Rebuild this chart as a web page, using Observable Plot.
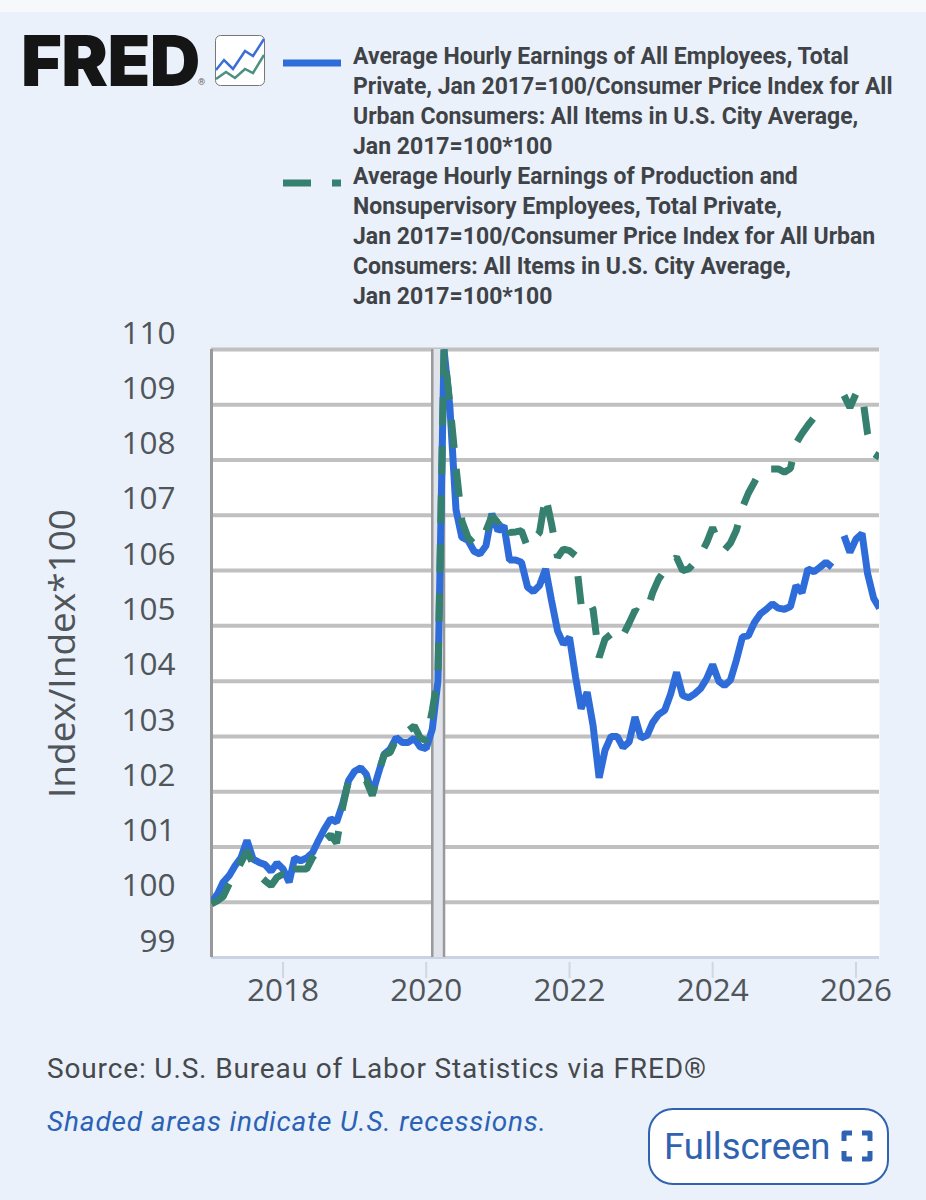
<!DOCTYPE html>
<html>
<head>
<meta charset="utf-8">
<script src="https://cdn.jsdelivr.net/npm/d3@7"></script>
<script src="https://cdn.jsdelivr.net/npm/@observablehq/plot@0.6"></script>
<style>
html,body{margin:0;padding:0;background:#eaf1fa;width:926px;height:1200px;overflow:hidden;font-family:Roboto,sans-serif}
#header{position:relative;height:300px;width:926px}
#top{position:absolute;left:0;top:0;width:926px;height:12px;background:#f6f8fc}
#logo{position:absolute;left:21px;top:36px;font:900 70px/50px Inter,sans-serif;letter-spacing:-0.6px;color:#151515}
#reg{position:absolute;left:198px;top:77px;font:9px/11px Roboto;color:#666}
#icon{position:absolute;left:215px;top:35px}
.leg{position:absolute;left:353px;width:560px;font:700 23px/30px Roboto,sans-serif;color:#3f4347;white-space:nowrap}
.key{position:absolute;left:283px}
#chart{height:740px}
#chart svg{display:block;background:transparent}
#source{position:absolute;left:47px;top:1052px;font:28px/34px Roboto,sans-serif;letter-spacing:.86px;color:#45494d;white-space:nowrap}
#note{position:absolute;left:47px;top:1105px;font:italic 28px/34px Roboto,sans-serif;letter-spacing:.85px;color:#2b62b5;white-space:nowrap}
#btn{position:absolute;left:648px;top:1108px;width:237px;height:73px;background:#fff;border:2px solid #2f62b0;border-radius:25px;color:#2f62b0;font:36.5px/73px Roboto,sans-serif}
#btn span{position:absolute;left:14px;top:0}
#btn svg{position:absolute;left:191px;top:20px}
</style>
</head>
<body>
<div id="top"></div>
<div id="header">
  <div id="logo">FRED</div><div id="reg">®</div>
  <svg id="icon" width="50" height="52" viewBox="0 0 50 52">
    <rect x="0.5" y="0.5" width="49" height="50" rx="5" fill="#fff" stroke="#777"/>
    <polyline points="1,35 9,25 18,34 30,16 38,21 49,4" fill="none" stroke="#3b6fd6" stroke-width="2.5"/>
    <polyline points="1,44 11,37 20,43 30,34 38,38 49,20" fill="none" stroke="#4c9180" stroke-width="2.5"/>
  </svg>
  <svg class="key" style="top:58px" width="58" height="10"><line x1="0" x2="58" y1="5" y2="5" stroke="#2e6dd9" stroke-width="7"/></svg>
  <svg class="key" style="top:178px" width="58" height="10"><line x1="0" x2="58" y1="5" y2="5" stroke="#35806f" stroke-width="7" stroke-dasharray="28,21"/></svg>
  <div class="leg" style="top:42px">Average Hourly Earnings of All Employees, Total<br>Private, Jan 2017=100/Consumer Price Index for All<br>Urban Consumers: All Items in U.S. City Average,<br>Jan 2017=100*100</div>
  <div class="leg" style="top:162px">Average Hourly Earnings of Production and<br>Nonsupervisory Employees, Total Private,<br>Jan 2017=100/Consumer Price Index for All Urban<br>Consumers: All Items in U.S. City Average,<br>Jan 2017=100*100</div>
</div>
<div id="chart"></div>
<div id="source">Source: U.S. Bureau of Labor Statistics via FRED®</div>
<div id="note">Shaded areas indicate U.S. recessions.</div>
<div id="btn"><span>Fullscreen</span>
  <svg width="32" height="32" viewBox="0 0 32 32" fill="none" stroke="#2f62b0" stroke-width="5" stroke-linejoin="round"><path d="M3 11V3H11M21 3H29V11M29 21V29H21M11 29H3V21"/></svg>
</div>
<script>
const allEmployees = [
  100.00,100.15,100.36,100.48,100.66,100.81,101.12,100.78,100.72,100.68,100.56,100.71,
  100.60,100.36,100.80,100.75,100.80,100.90,101.12,101.33,101.51,101.45,101.78,102.20,
  102.37,102.43,102.32,101.96,102.32,102.68,102.77,102.98,102.89,102.89,102.97,102.81,
  102.78,103.13,104.00,110.00,108.95,107.10,106.60,106.55,106.35,106.30,106.45,107.03,
  106.72,106.81,106.19,106.19,106.15,105.70,105.62,105.73,106.03,105.46,104.91,104.67,
  104.79,104.07,103.50,103.80,103.20,102.25,102.75,103.00,103.00,102.80,102.90,103.35,
  102.97,103.02,103.25,103.40,103.47,103.77,104.16,103.74,103.70,103.77,103.87,104.04,
  104.30,104.00,103.92,104.02,104.38,104.80,104.82,105.06,105.22,105.30,105.40,105.32,
  105.30,105.35,105.73,105.60,106.03,105.98,106.06,106.15,106.06,null,106.63,106.33,
  106.57,106.67,105.95,105.50,105.32
];
const productionWorkers = [
  99.97,100.03,100.10,100.33,100.51,100.72,100.93,100.69,100.49,100.39,100.30,100.45,
  100.51,100.39,100.60,100.60,100.60,100.81,100.96,101.12,101.22,101.07,101.72,102.20,
  102.29,102.23,102.20,101.93,102.32,102.67,102.71,102.95,102.98,103.10,103.19,102.98,
  102.92,103.47,104.10,110.00,109.01,107.87,106.90,106.60,106.48,106.51,106.72,106.99,
  106.87,106.99,106.69,106.70,106.72,106.42,106.57,106.69,107.35,106.85,106.24,106.39,
  106.36,106.27,105.39,105.52,105.30,104.43,104.76,104.85,104.95,104.83,105.05,105.28,
  105.22,105.28,105.60,105.85,106.00,106.15,106.24,106.00,106.03,106.15,106.30,106.50,
  106.78,106.50,106.37,106.50,106.73,107.14,107.40,107.60,107.81,107.84,107.84,107.84,
  107.78,107.85,108.30,108.48,108.63,108.77,108.79,108.75,108.72,null,109.17,108.95,
  109.20,109.22,108.48,108.12,108.05
];
const yTicks = [99,100,101,102,103,104,105,106,107,108,109,110];
const gridValues = [100,101,102,103,104,105,106,107,108,109,110];
const xLabelYears = [2018,2020,2022,2024,2026];
const recessionStart = [new Date(Date.UTC(2020,1,1))];
const recessionEnd = [new Date(Date.UTC(2020,3,1))];

const months = allEmployees.map((_, i) => new Date(Date.UTC(2017, i, 1)));
const rows = months.map((date, i) => ({date, a: allEmployees[i], p: productionWorkers[i]}));
const year = y => new Date(Date.UTC(y,0,1));
const recession = [{x1: recessionStart[0], x2: recessionEnd[0]}];
const tickFont = "'Open Sans', sans-serif";

const chart = Plot.plot({
  width: 926, height: 740,
  marginTop: 49, marginBottom: 83, marginLeft: 211, marginRight: 47,
  style: {background: "transparent", fontFamily: tickFont},
  x: {type: "utc", domain: [new Date(Date.UTC(2017,0,1)), new Date(Date.UTC(2026,4,1))]},
  y: {domain: [99,110]},
  marks: [
    Plot.frame({fill: "#fff", stroke: null}),
    Plot.ruleY([99], {stroke: "#c9d3e3", strokeWidth: 3}),
    Plot.ruleY(gridValues, {stroke: "#c0c0c0", strokeWidth: 4}),
    Plot.rect(recession, {x1: "x1", x2: "x2", y1: 99, y2: 110, fill: "#e1e3ea"}),
    Plot.ruleX(recession, {x: "x1", stroke: "#999", strokeWidth: 2.5, y1: 99, y2: 110}),
    Plot.ruleX(recession, {x: "x2", stroke: "#999", strokeWidth: 2.5, y1: 99, y2: 110}),
    Plot.ruleX([year(2017)], {stroke: "#999", strokeWidth: 3, y1: 99, y2: 110}),
    Plot.axisX({ticks: xLabelYears.map(year), tickFormat: d => String(d.getUTCFullYear()),
      tickSize: 16, tickPadding: 0, stroke: "#cfd6e4", strokeWidth: 2, fontSize: 31.5, fill: "#50555a", label: null,
      dy: 5, color: "#50555a"}),
    Plot.axisY({ticks: yTicks, tickFormat: d => String(d), tickSize: 0, tickPadding: 36,
      fontSize: 31.5, fill: "#50555a", label: null, dy: -16}),
    Plot.text(["Index/Index*100"], {frameAnchor: "left", dx: -148, dy: 0, rotate: -90,
      fontSize: 37, fill: "#50555a", textAnchor: "middle"}),
    Plot.line(rows, {x: "date", y: "a", stroke: "#2e6dd9", strokeWidth: 7, curve: "linear",
      strokeLinejoin: "miter", strokeLinecap: "butt", clip: "frame"}),
    Plot.line(rows, {x: "date", y: "p", stroke: "#35806f", strokeWidth: 7, curve: "linear",
      strokeDasharray: "28,21", strokeLinejoin: "miter", strokeLinecap: "butt", clip: "frame"})
  ]
});
document.getElementById("chart").append(chart);
</script>
</body>
</html>
